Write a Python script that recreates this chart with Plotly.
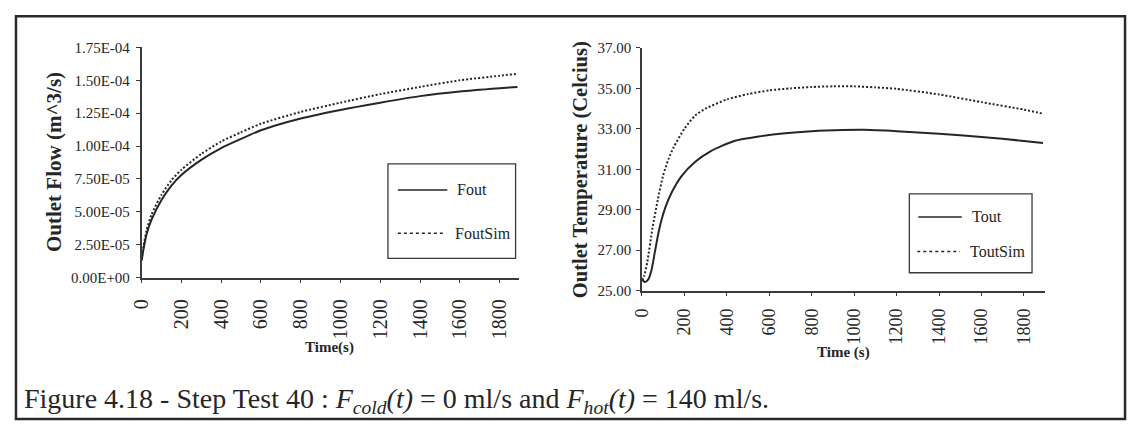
import plotly.graph_objects as go

# ---- data -------------------------------------------------------------
# Outlet flow step test (time in s, flow in m^3/s)
flow_time = [0, 10, 25, 50, 100, 150, 200, 300, 400, 500, 600, 800, 1000,
             1200, 1400, 1600, 1800, 1890]
fout_sim = [1.3e-5, 2.4e-5, 3.6e-5, 4.8e-5, 6.3e-5, 7.4e-5, 8.2e-5, 9.4e-5,
            1.035e-4, 1.105e-4, 1.17e-4, 1.26e-4, 1.33e-4, 1.395e-4, 1.45e-4,
            1.50e-4, 1.535e-4, 1.55e-4]
fout = [1.3e-5, 2.2e-5, 3.3e-5, 4.4e-5, 5.9e-5, 7.0e-5, 7.8e-5, 8.95e-5,
        9.85e-5, 1.055e-4, 1.12e-4, 1.21e-4, 1.275e-4, 1.33e-4, 1.38e-4,
        1.415e-4, 1.44e-4, 1.45e-4]

# Outlet temperature step test (time in s, temperature in Celcius)
tsim_time = [0, 10, 25, 50, 75, 100, 125, 150, 200, 250, 300, 400, 500, 600,
             700, 800, 900, 1000, 1100, 1200, 1400, 1600, 1800, 1890]
tout_sim = [25.5, 25.7, 26.4, 28.1, 29.5, 30.7, 31.5, 32.1, 33.0, 33.65,
            34.0, 34.45, 34.72, 34.9, 35.0, 35.07, 35.1, 35.1, 35.05, 34.98,
            34.7, 34.32, 33.95, 33.75]
tout_time = [0, 15, 30, 45, 60, 75, 90, 110, 140, 185, 250, 325, 435, 550,
             675, 800, 950, 1050, 1200, 1400, 1600, 1800, 1890]
tout = [25.55, 25.42, 25.55, 26.0, 26.85, 27.7, 28.4, 29.1, 29.85, 30.64,
        31.36, 31.9, 32.4, 32.62, 32.78, 32.88, 32.94, 32.95, 32.88, 32.75,
        32.6, 32.4, 32.3]

time_ticks = [0, 200, 400, 600, 800, 1000, 1200, 1400, 1600, 1800]
flow_ticks = [0, 2.5e-5, 5.0e-5, 7.5e-5, 1.0e-4, 1.25e-4, 1.5e-4, 1.75e-4]
flow_tick_text = ["0.00E+00", "2.50E-05", "5.00E-05", "7.50E-05",
                  "1.00E-04", "1.25E-04", "1.50E-04", "1.75E-04"]
temp_ticks = [25, 27, 29, 31, 33, 35, 37]

caption = ("Figure 4.18 - Step Test 40 : <i>F</i><sub><i>cold</i></sub><i>(t)</i>"
           " = 0 ml/s and <i>F</i><sub><i>hot</i></sub><i>(t)</i> = 140 ml/s.")

# ---- layout helpers ---------------------------------------------------
W, H = 1128, 429
SERIF = "Liberation Serif"
INK = "#262626"
CURVE_DOT = "2px,2px"


def fx(px):
    return px / W


def fy(py):
    return 1 - py / H


line_style = dict(color=INK, width=2, shape="spline", smoothing=0.6)

fig = go.Figure()
fig.add_trace(go.Scatter(x=flow_time, y=fout, mode="lines", name="Fout",
                         line=dict(**line_style),
                         xaxis="x", yaxis="y", showlegend=False))
fig.add_trace(go.Scatter(x=flow_time, y=fout_sim, mode="lines", name="FoutSim",
                         line=dict(**line_style, dash=CURVE_DOT),
                         xaxis="x", yaxis="y", showlegend=False))
fig.add_trace(go.Scatter(x=tout_time, y=tout, mode="lines", name="Tout",
                         line=dict(**line_style),
                         xaxis="x2", yaxis="y2", showlegend=False))
fig.add_trace(go.Scatter(x=tsim_time, y=tout_sim, mode="lines", name="ToutSim",
                         line=dict(**line_style, dash=CURVE_DOT),
                         xaxis="x2", yaxis="y2", showlegend=False))

axis_common = dict(showline=True, linecolor="#3a3a3a", linewidth=1.5,
                   ticks="outside", ticklen=4, tickcolor="#3a3a3a",
                   showgrid=False, zeroline=False, fixedrange=True)
x_common = dict(axis_common, range=[0, 1898], tickvals=time_ticks,
                tickangle=-90)

fig.update_layout(
    width=W, height=H, autosize=False,
    margin=dict(l=0, r=0, t=0, b=0),
    paper_bgcolor="white", plot_bgcolor="white",
    xaxis=dict(x_common, domain=[fx(131), fx(512.5)], anchor="y",
               ticklabelstandoff=8,
               tickfont=dict(family=SERIF, size=20, color=INK)),
    yaxis=dict(axis_common, domain=[fy(280), fy(41)], anchor="x",
               range=[0, 1.75e-4], tickvals=flow_ticks, ticktext=flow_tick_text,
               ticklabelstandoff=3,
               tickfont=dict(family=SERIF, size=15, color=INK)),
    xaxis2=dict(x_common, domain=[fx(636.7), fx(1043.8)], anchor="y2",
                ticklabelstandoff=5,
                tickfont=dict(family=SERIF, size=18, color=INK)),
    yaxis2=dict(axis_common, domain=[fy(293.5), fy(41.5)], anchor="x2",
                range=[25, 37], tickvals=temp_ticks, tickformat=".2f",
                ticklabelstandoff=2,
                tickfont=dict(family=SERIF, size=15, color=INK)),
)

shapes = []
annotations = []


def text(px, py, s, size, angle=0, xanchor="center", yanchor="middle"):
    annotations.append(dict(x=fx(px), y=fy(py), xref="paper", yref="paper",
                            text=s, showarrow=False, textangle=angle,
                            xanchor=xanchor, yanchor=yanchor,
                            font=dict(family=SERIF, size=size, color=INK)))


# outer frame
shapes.append(dict(type="rect", xref="paper", yref="paper",
                   x0=fx(4), x1=fx(1125), y0=fy(427), y1=fy(8.5),
                   line=dict(color="#2a2a2a", width=2.5)))

# axis titles
text(42, 160.5, "<b>Outlet Flow (m^3/s)</b>", 21, angle=-90)
text(574, 167.5, "<b>Outlet Temperature (Celcius)</b>", 20.5, angle=-90)
text(320.7, 353, "<b>Time(s)</b>", 15)
text(840.6, 358, "<b>Time (s)</b>", 15)


# legends
def legend_box(x0, x1, y0, y1, rows):
    shapes.append(dict(type="rect", xref="paper", yref="paper",
                       x0=fx(x0), x1=fx(x1), y0=fy(y1), y1=fy(y0),
                       line=dict(color="#3a3a3a", width=1.3),
                       fillcolor="white"))
    for (lx0, lx1, ly, dash, label) in rows:
        shapes.append(dict(type="line", xref="paper", yref="paper",
                           x0=fx(lx0), x1=fx(lx1), y0=fy(ly), y1=fy(ly),
                           line=dict(color=INK, width=1.5, dash=dash)))
        text(lx1 + 8, ly, label, 16, xanchor="left")


legend_box(380, 509, 162, 260, [(390, 440, 189, "solid", "Fout"),
                                (390, 438, 234, "dot", "FoutSim")])
legend_box(907, 1031, 193, 275, [(916, 960, 217, "solid", "Tout"),
                                 (915, 958, 253, "dot", "ToutSim")])

# caption
text(10, 408, caption, 28, xanchor="left")

fig.update_layout(shapes=shapes, annotations=annotations)
fig.write_html("out.html")
